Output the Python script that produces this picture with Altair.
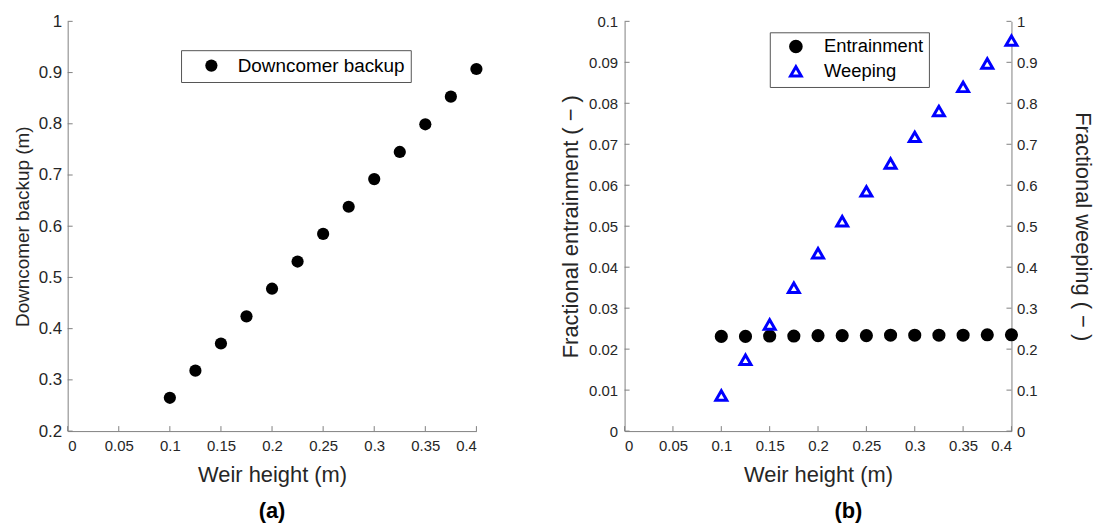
import altair as alt
import pandas as pd

# ---- data ----
weir = [0.1, 0.125, 0.15, 0.175, 0.2, 0.225, 0.25, 0.275, 0.3, 0.325, 0.35, 0.375, 0.4]
downcomer = [0.265, 0.318, 0.371, 0.424, 0.478, 0.531, 0.585, 0.638, 0.692, 0.745, 0.799, 0.853, 0.907]
entrainment = [0.0231, 0.0231, 0.0232, 0.0232, 0.0233, 0.0233, 0.0233, 0.0234, 0.0234, 0.0234, 0.0234, 0.0235, 0.0235]
weeping = [0.087, 0.174, 0.260, 0.350, 0.434, 0.512, 0.585, 0.653, 0.718, 0.781, 0.840, 0.897, 0.953]

x_ticks = [0, 0.05, 0.1, 0.15, 0.2, 0.25, 0.3, 0.35, 0.4]
ya_ticks = [0.2, 0.3, 0.4, 0.5, 0.6, 0.7, 0.8, 0.9, 1.0]
yb_left_ticks = [0, 0.01, 0.02, 0.03, 0.04, 0.05, 0.06, 0.07, 0.08, 0.09, 0.1]
yb_right_ticks = [0, 0.1, 0.2, 0.3, 0.4, 0.5, 0.6, 0.7, 0.8, 0.9, 1.0]

series_a = ["Downcomer backup"]
series_b = ["Entrainment", "Weeping"]

FONT = "Liberation Sans"
TXT = "#262626"
AX = "#808080"
W_A, W_B, H = 411, 389, 412
TICK = 5

df_a = pd.DataFrame({"x": weir, "y": downcomer, "series": series_a[0]})
df_ent = pd.DataFrame({"x": weir, "v": entrainment, "series": series_b[0]})
df_wee = pd.DataFrame({"x": weir, "v": weeping, "series": series_b[1]})
df_xt = pd.DataFrame({"x": x_ticks})
df_yat = pd.DataFrame({"y": ya_ticks})
df_ybl = pd.DataFrame({"v": yb_left_ticks})
df_ybr = pd.DataFrame({"v": yb_right_ticks})


def axis_common(**kw):
    base = dict(labelFont=FONT, labelColor=TXT, labelFontSize=15, titleFont=FONT,
                titleColor=TXT, titleFontWeight="normal", domainColor=AX, ticks=False,
                grid=False, format="~g", labelPadding=8)
    base.update(kw)
    return alt.Axis(**base)


X = alt.X("x:Q", scale=alt.Scale(domain=[0, 0.4], nice=False, zero=False),
          axis=axis_common(values=x_ticks, title="Weir height (m)", titleFontSize=22,
                           titlePadding=11))

# ---------------- panel (a) ----------------
Ya = alt.Y("y:Q", scale=alt.Scale(domain=[0.2, 1.0], nice=False, zero=False),
           axis=axis_common(values=ya_ticks, title="Downcomer backup (m)", titleFontSize=19,
                            labelFontSize=17, titlePadding=6, labelPadding=6))

# legend positions are measured from the concat origin (left plot's top-left corner)
leg_a = alt.Legend(orient="none", legendX=114, legendY=29, title=None, strokeColor="#555555",
                   fillColor="white", padding=6, labelFont=FONT, labelFontSize=19,
                   labelColor="black", symbolSize=150, symbolType="circle", labelLimit=400,
                   symbolOffset=15, labelOffset=17, symbolStrokeWidth=0)

pts_a = alt.Chart(df_a).mark_circle(size=150, opacity=1).encode(
    x=X, y=Ya,
    color=alt.Color("series:N", scale=alt.Scale(domain=series_a, range=["black"]), legend=leg_a),
)
xt_a = alt.Chart(df_xt).mark_rule(color=AX).encode(x=X, y=alt.value(H), y2=alt.value(H - TICK))
yt_a = alt.Chart(df_yat).mark_rule(color=AX).encode(y=Ya, x=alt.value(0), x2=alt.value(TICK))
lab_a = alt.Chart(pd.DataFrame({"t": ["(a)"]})).mark_text(
    font=FONT, fontSize=22, fontWeight="bold", color="black", baseline="alphabetic"
).encode(text="t:N", x=alt.value(W_A / 2), y=alt.value(499))

panel_a = alt.layer(xt_a, yt_a, pts_a, lab_a).properties(width=W_A, height=H)

# ---------------- panel (b) ----------------
leg_b = alt.Legend(orient="none", legendX=706, legendY=11, title=None, strokeColor="#555555",
                   fillColor="white", padding=5, labelFont=FONT, labelFontSize=18.5,
                   labelColor="black", symbolSize=115, symbolStrokeWidth=3, labelLimit=400,
                   symbolOffset=12, labelOffset=19, rowPadding=2)

shape_enc = alt.Shape("series:N", scale=alt.Scale(domain=series_b, range=["circle", "triangle-up"]), legend=leg_b)
fill_enc = alt.Fill("series:N", scale=alt.Scale(domain=series_b, range=["black", "white"]), legend=leg_b)
stroke_enc = alt.Stroke("series:N", scale=alt.Scale(domain=series_b, range=["black", "#0000ff"]), legend=leg_b)

Yb_left = alt.Y("v:Q", scale=alt.Scale(domain=[0, 0.1], nice=False),
                axis=axis_common(values=yb_left_ticks, orient="left",
                                 title="Fractional entrainment ( \u2212 )", titleFontSize=22,
                                 titlePadding=6, labelPadding=7))
Yb_right = alt.Y("v:Q", scale=alt.Scale(domain=[0, 1], nice=False),
                 axis=axis_common(values=yb_right_ticks, orient="right",
                                  title="Fractional weeping ( \u2212 )", titleFontSize=22,
                                  titlePadding=34, labelPadding=5))
Yb_left_noax = alt.Y("v:Q", scale=alt.Scale(domain=[0, 0.1], nice=False), axis=None)
Yb_right_noax = alt.Y("v:Q", scale=alt.Scale(domain=[0, 1], nice=False), axis=None)

ent_pts = alt.Chart(df_ent).mark_point(filled=True, size=115, strokeWidth=2.5, opacity=1).encode(
    x=X, y=Yb_left, shape=shape_enc, fill=fill_enc, stroke=stroke_enc)
wee_pts = alt.Chart(df_wee).mark_point(filled=True, size=120, strokeWidth=3, opacity=1).encode(
    x=X, y=Yb_right, shape=shape_enc, fill=fill_enc, stroke=stroke_enc)
xt_b = alt.Chart(df_xt).mark_rule(color=AX).encode(x=X, y=alt.value(H), y2=alt.value(H - TICK))
ytl_b = alt.Chart(df_ybl).mark_rule(color=AX).encode(y=Yb_left_noax, x=alt.value(0), x2=alt.value(TICK))
ytr_b = alt.Chart(df_ybr).mark_rule(color=AX).encode(y=Yb_right_noax, x=alt.value(W_B), x2=alt.value(W_B - TICK))
lab_b = alt.Chart(pd.DataFrame({"t": ["(b)"]})).mark_text(
    font=FONT, fontSize=22, fontWeight="bold", color="black", baseline="alphabetic"
).encode(text="t:N", x=alt.value(225), y=alt.value(499))

panel_b = alt.layer(ent_pts, wee_pts, xt_b, ytl_b, ytr_b, lab_b).resolve_scale(
    y="independent").properties(width=W_B, height=H)

chart = alt.hconcat(panel_a, panel_b, spacing=76).properties(
    padding={"left": 5, "top": 3, "right": 0, "bottom": 0}
).configure_view(stroke=None).configure_concat(spacing=76)

chart.save("out.html", embed_options={"renderer": "svg", "actions": False})
